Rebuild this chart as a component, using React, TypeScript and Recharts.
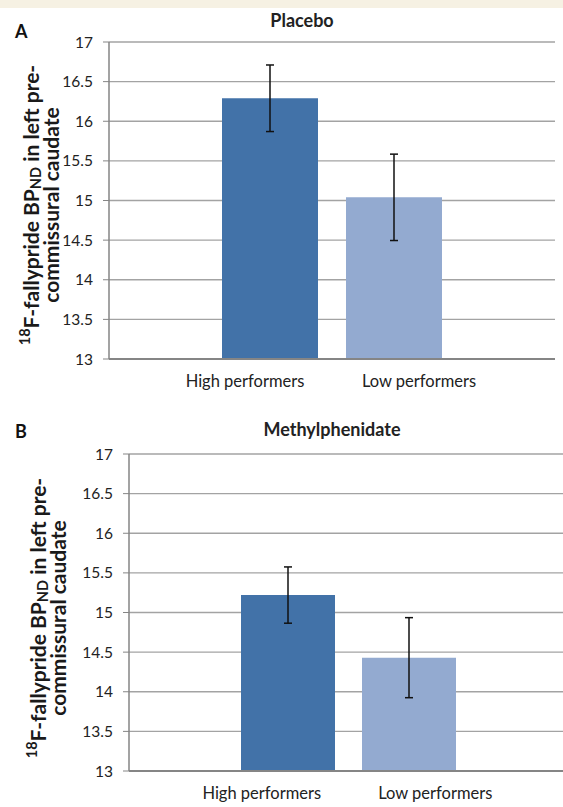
import React from 'react';
import { BarChart, Bar, XAxis, YAxis, CartesianGrid, ErrorBar, Cell } from 'recharts';

const groups = ['High performers', 'Low performers'];
const placeboMeans = [16.29, 15.04];
const placeboErrors = [0.42, 0.545];
const mphMeans = [15.22, 14.43];
const mphErrors = [0.355, 0.505];
const yTicks = [13, 13.5, 14, 14.5, 15, 15.5, 16, 16.5, 17];
const barColors = ['#4272a8', '#93aad0'];

const FONT = 'Lato, "Open Sans", sans-serif';

const buildRows = (means: number[], errors: number[]) =>
  groups.map((g, i) => ({ group: g, value: means[i], err: errors[i] }));

const AxisTitle = ({ x1, x2, cy }: { x1: number; x2: number; cy: number }) => (
  <g fontFamily={FONT} fontWeight="bold" fontSize={21} fill="#1a1a1a">
    <text x={x1} y={cy} textAnchor="middle" dominantBaseline="central" transform={`rotate(-90 ${x1} ${cy})`}>
      <tspan fontSize={14.5} dy={-6}>18</tspan>
      <tspan dy={6}>F-fallypride BP</tspan>
      <tspan fontSize={14.5} dy={5}>ND</tspan>
      <tspan dy={-5}> in left pre-</tspan>
    </text>
    <text x={x2} y={cy} textAnchor="middle" dominantBaseline="central" transform={`rotate(-90 ${x2} ${cy})`}>
      commissural caudate
    </text>
  </g>
);

interface PanelProps {
  letter: string;
  title: string;
  titleX: number;
  titleTop: number;
  top: number;
  height: number;
  rows: { group: string; value: number; err: number }[];
  margin: { top: number; right: number; bottom: number; left: number };
  labelPad: { left: number; right: number };
  barPad: { left: number; right: number };
  barSize: number;
  axisTitle: { x1: number; x2: number; cy: number };
}

const Panel: React.FC<PanelProps> = ({ letter, title, titleX, titleTop, top, height, rows, margin, labelPad, barPad, barSize, axisTitle }) => (
  <div style={{ position: 'absolute', left: 0, top, width: 563, height }}>
    <div style={{ position: 'absolute', left: 15, top: 22, fontSize: 18, fontWeight: 'bold', color: '#111', lineHeight: '18px' }}>
      {letter}
    </div>
    <div
      style={{
        position: 'absolute',
        left: titleX - 100,
        width: 200,
        top: titleTop,
        textAlign: 'center',
        fontSize: 18,
        fontWeight: 'bold',
        color: '#222',
        lineHeight: '18px'
      }}
    >
      {title}
    </div>
    <BarChart width={563} height={height} data={rows} margin={margin}>
      <CartesianGrid horizontal vertical={false} stroke="#a3a3a3" strokeWidth={1.3} />
      <XAxis
        dataKey="group"
        xAxisId="labels"
        padding={labelPad}
        tickLine={false}
        tickSize={0}
        tickMargin={16}
        height={30}
        axisLine={{ stroke: '#858585', strokeWidth: 2 }}
        tick={{ fill: '#222', fontSize: 16.5, fontFamily: FONT }}
      />
      <XAxis dataKey="group" xAxisId="bars" hide height={0} padding={barPad} />
      <YAxis
        domain={[13, 17]}
        ticks={yTicks}
        width={60}
        tickSize={6}
        tickMargin={10}
        interval={0}
        axisLine={{ stroke: '#858585', strokeWidth: 1.5 }}
        tickLine={{ stroke: '#858585' }}
        tick={{ fill: '#222', fontSize: 15.5, fontFamily: FONT }}
        label={<AxisTitle {...axisTitle} />}
      />
      <Bar dataKey="value" xAxisId="bars" barSize={barSize} isAnimationActive={false}>
        {rows.map((r, i) => (
          <Cell key={r.group} fill={barColors[i]} />
        ))}
        <ErrorBar dataKey="err" width={4} stroke="#111" strokeWidth={1.5} />
      </Bar>
    </BarChart>
  </div>
);

export default function App() {
  return (
    <div
      style={{
        position: 'absolute',
        left: 0,
        top: 0,
        width: 563,
        height: 807,
        background: '#fff',
        fontFamily: FONT,
        overflow: 'hidden'
      }}
    >
      <div style={{ height: 8, background: '#f6f1e3' }} />
      <Panel
        letter="A"
        title="Placebo"
        titleX={302}
        titleTop={11}
        top={0}
        height={400}
        rows={buildRows(placeboMeans, placeboErrors)}
        margin={{ top: 42, right: 8, bottom: 11, left: 49 }}
        labelPad={{ left: 49, right: 49 }}
        barPad={{ left: 99, right: 99 }}
        barSize={96}
        axisTitle={{ x1: 30, x2: 50, cy: 205 }}
      />
      <Panel
        letter="B"
        title="Methylphenidate"
        titleX={332}
        titleTop={20}
        top={400}
        height={407}
        rows={buildRows(mphMeans, mphErrors)}
        margin={{ top: 54, right: 0, bottom: 6, left: 69 }}
        labelPad={{ left: 46, right: 41 }}
        barPad={{ left: 98, right: 94 }}
        barSize={94}
        axisTitle={{ x1: 37, x2: 57, cy: 218 }}
      />
    </div>
  );
}
